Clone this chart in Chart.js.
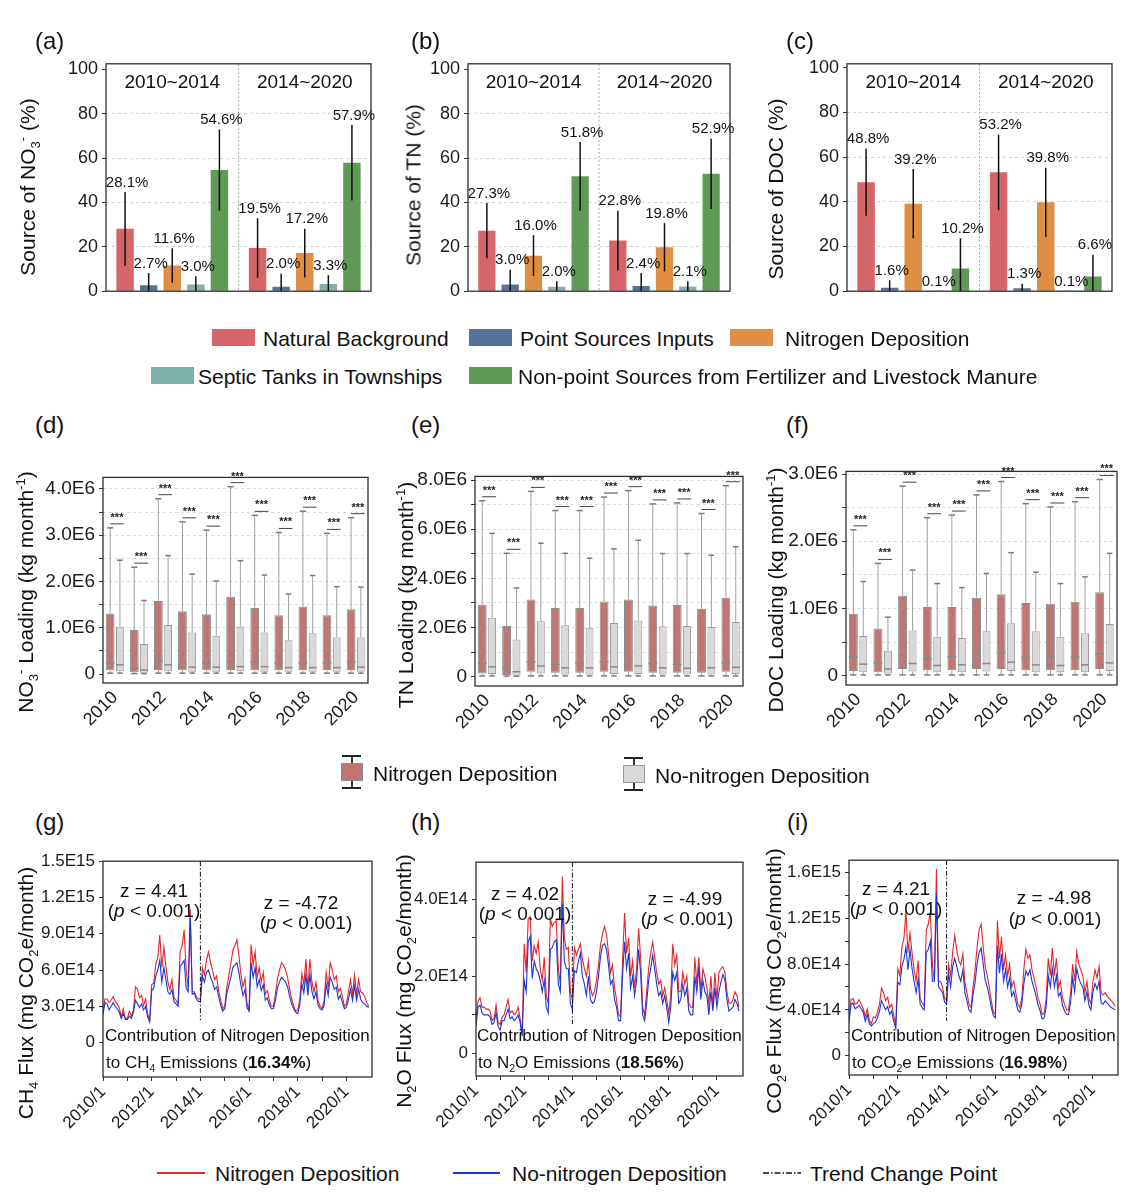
<!DOCTYPE html>
<html lang="en">
<head>
<meta charset="UTF-8">
<title>Nitrogen deposition: sources, loadings and fluxes</title>
<script src="https://cdn.jsdelivr.net/npm/chart.js"></script>
<style>
  html, body { margin: 0; padding: 0; overflow: hidden; background: #fff; }
  body { font-family: "Liberation Sans", Arial, Helvetica, sans-serif; color: #111; }
  #page { position: relative; width: 1128px; height: 1198px; }
  .panel { position: absolute; }
  .t { position: absolute; white-space: nowrap; line-height: 1; }
  .c { transform: translate(-50%, -50%); }
  .l { transform: translate(0, -50%); }
  .rot { transform: translate(-50%, -50%) rotate(-90deg); font-size: 21px; }
  .lab { font-size: 24px; }
  .z { font-size: 19px; }
  .note { font-size: 17px; }
  .leg { font-size: 21px; }
  sub, sup { font-size: 0.62em; line-height: 0; }
  .sw { position: absolute; box-sizing: border-box; }
</style>
</head>
<body>
<div id="page">
  <div class="panel" id="pa"><canvas></canvas></div>
  <div class="panel" id="pb"><canvas></canvas></div>
  <div class="panel" id="pc"><canvas></canvas></div>
  <div class="panel" id="pd"><canvas></canvas></div>
  <div class="panel" id="pe"><canvas></canvas></div>
  <div class="panel" id="pf"><canvas></canvas></div>
  <div class="panel" id="pg"><canvas></canvas></div>
  <div class="panel" id="ph"><canvas></canvas></div>
  <div class="panel" id="pi"><canvas></canvas></div>

  <!-- panel letters -->
  <div class="t lab l" style="left:35px;top:41px">(a)</div>
  <div class="t lab l" style="left:411px;top:41px">(b)</div>
  <div class="t lab l" style="left:786px;top:41px">(c)</div>
  <div class="t lab l" style="left:35px;top:425px">(d)</div>
  <div class="t lab l" style="left:411px;top:425px">(e)</div>
  <div class="t lab l" style="left:786px;top:425px">(f)</div>
  <div class="t lab l" style="left:35px;top:822px">(g)</div>
  <div class="t lab l" style="left:411px;top:822px">(h)</div>
  <div class="t lab l" style="left:787px;top:822px">(i)</div>

  <!-- axis titles -->
  <div class="t rot" style="left:27px;top:187px">Source of NO<sub>3</sub><sup>-</sup> (%)</div>
  <div class="t rot" style="left:413px;top:185px">Source of TN (%)</div>
  <div class="t rot" style="left:775px;top:189px">Source of DOC (%)</div>
  <div class="t rot" style="left:25px;top:592px">NO<sub>3</sub><sup>-</sup> Loading (kg month<sup>-1</sup>)</div>
  <div class="t rot" style="left:405px;top:595px">TN Loading (kg month<sup>-1</sup>)</div>
  <div class="t rot" style="left:775px;top:590px">DOC Loading (kg month<sup>-1</sup>)</div>
  <div class="t rot" style="left:25px;top:993px">CH<sub>4</sub> Flux (mg CO<sub>2</sub>e/month)</div>
  <div class="t rot" style="left:403px;top:981px">N<sub>2</sub>O Flux (mg CO<sub>2</sub>e/month)</div>
  <div class="t rot" style="left:773px;top:981px">CO<sub>2</sub>e Flux (mg CO<sub>2</sub>e/month)</div>

  <!-- source legend -->
  <div class="sw" style="left:212px;top:329px;width:43px;height:17px;background:#d4666a"></div>
  <div class="t leg l" style="left:263px;top:338px">Natural Background</div>
  <div class="sw" style="left:469px;top:329px;width:43px;height:17px;background:#54739b"></div>
  <div class="t leg l" style="left:520px;top:338px">Point Sources Inputs</div>
  <div class="sw" style="left:730px;top:329px;width:43px;height:17px;background:#df8e44"></div>
  <div class="t leg l" style="left:785px;top:338px">Nitrogen Deposition</div>
  <div class="sw" style="left:151px;top:367px;width:43px;height:17px;background:#7fb2ab"></div>
  <div class="t leg l" style="left:198px;top:376px">Septic Tanks in Townships</div>
  <div class="sw" style="left:469px;top:367px;width:43px;height:17px;background:#5f9a57"></div>
  <div class="t leg l" style="left:518px;top:376px">Non-point Sources from Fertilizer and Livestock Manure</div>

  <!-- box legend -->
  <div class="sw" style="left:351px;top:756px;width:1.5px;height:32px;background:#333"></div>
  <div class="sw" style="left:342px;top:755px;width:19px;height:2px;background:#222"></div>
  <div class="sw" style="left:342px;top:787px;width:19px;height:2px;background:#222"></div>
  <div class="sw" style="left:341px;top:763px;width:22px;height:18px;background:#be7676;border:1px solid #8c8c8c"></div>
  <div class="t leg l" style="left:373px;top:773px">Nitrogen Deposition</div>
  <div class="sw" style="left:633px;top:758px;width:1.5px;height:32px;background:#333"></div>
  <div class="sw" style="left:624px;top:757px;width:19px;height:2px;background:#222"></div>
  <div class="sw" style="left:624px;top:789px;width:19px;height:2px;background:#222"></div>
  <div class="sw" style="left:623px;top:765px;width:22px;height:18px;background:#d9d9d9;border:1px solid #999"></div>
  <div class="t leg l" style="left:655px;top:775px">No-nitrogen Deposition</div>

  <!-- flux annotations -->
  <div class="t z c" style="left:154px;top:890px">z = 4.41</div>
  <div class="t z c" style="left:154px;top:910px">(<i>p</i> &lt; 0.001)</div>
  <div class="t z c" style="left:301px;top:902px">z = -4.72</div>
  <div class="t z c" style="left:306px;top:922px">(<i>p</i> &lt; 0.001)</div>
  <div class="t note l" style="left:105px;top:1035px">Contribution of Nitrogen Deposition</div>
  <div class="t note l" style="left:106px;top:1062px">to CH<sub>4</sub> Emissions (<b>16.34%</b>)</div>

  <div class="t z c" style="left:525px;top:893px">z = 4.02</div>
  <div class="t z c" style="left:525px;top:913px">(<i>p</i> &lt; 0.001)</div>
  <div class="t z c" style="left:685px;top:898px">z = -4.99</div>
  <div class="t z c" style="left:687px;top:918px">(<i>p</i> &lt; 0.001)</div>
  <div class="t note l" style="left:477px;top:1035px">Contribution of Nitrogen Deposition</div>
  <div class="t note l" style="left:478px;top:1062px">to N<sub>2</sub>O Emissions (<b>18.56%</b>)</div>

  <div class="t z c" style="left:896px;top:888px">z = 4.21</div>
  <div class="t z c" style="left:896px;top:908px">(<i>p</i> &lt; 0.001)</div>
  <div class="t z c" style="left:1054px;top:897px">z = -4.98</div>
  <div class="t z c" style="left:1055px;top:918px">(<i>p</i> &lt; 0.001)</div>
  <div class="t note l" style="left:851px;top:1035px">Contribution of Nitrogen Deposition</div>
  <div class="t note l" style="left:852px;top:1062px">to CO<sub>2</sub>e Emissions (<b>16.98%</b>)</div>

  <!-- line legend -->
  <div class="sw" style="left:157px;top:1172px;width:48px;height:1.5px;background:#e3262b"></div>
  <div class="t leg l" style="left:215px;top:1173px">Nitrogen Deposition</div>
  <div class="sw" style="left:453px;top:1172px;width:47px;height:1.5px;background:#1f35d6"></div>
  <div class="t leg l" style="left:512px;top:1173px">No-nitrogen Deposition</div>
  <svg class="t" style="left:763px;top:1168px" width="38" height="10"><line x1="0" y1="5" x2="38" y2="5" stroke="#111" stroke-width="1.3" stroke-dasharray="6 2 1.5 2"/></svg>
  <div class="t leg l" style="left:810px;top:1173px">Trend Change Point</div>
</div>

<script>
Chart.defaults.font.family = '"Liberation Sans", Arial, Helvetica, sans-serif';
Chart.defaults.color = '#1a1a1a';

// ---------- (a)-(c) source apportionment ----------
const barSources = ['Natural Background', 'Point Sources Inputs', 'Nitrogen Deposition',
                    'Septic Tanks in Townships', 'Non-point Sources from Fertilizer and Livestock Manure'];
const barColors = ['#d4666a', '#54739b', '#df8e44', '#7fb2ab', '#5f9a57'];
const barPeriods = ['2010~2014', '2014~2020'];
const barTicks = [0, 20, 40, 60, 80, 100];
const barTickLabels = ['0', '20', '40', '60', '80', '100'];

// share per source, [2010~2014, 2014~2020]
const no3Share = [[28.1, 19.5], [2.7, 2.0], [11.6, 17.2], [3.0, 3.3], [54.6, 57.9]];
const no3Err   = [[16.6, 13.4], [5.5, 5.9], [7.8, 11.0], [3.7, 3.9], [18.3, 17.0]];
const tnShare  = [[27.3, 22.8], [3.0, 2.4], [16.0, 19.8], [2.0, 2.1], [51.8, 52.9]];
const tnErr    = [[12.5, 13.5], [6.7, 5.8], [9.2, 10.9], [2.5, 2.4], [15.5, 15.8]];
const docShare = [[48.8, 53.2], [1.6, 1.3], [39.2, 39.8], [0.1, 0.1], [10.2, 6.6]];
const docErr   = [[15.0, 16.9], [3.3, 2.0], [15.5, 15.5], [0, 0], [13.5, 9.7]];

// ---------- (d)-(f) monthly loadings, [min, q1, median, q3, max] in E6 kg/month ----------
const years = ['2010', '2011', '2012', '2013', '2014', '2015', '2016', '2017', '2018', '2019', '2020'];
const no3Dep = [[0.02, 0.08, 0.24, 1.31, 3.16], [0.01, 0.04, 0.13, 0.95, 2.31], [0.02, 0.09, 0.29, 1.58, 3.79],
  [0.02, 0.08, 0.22, 1.36, 3.29], [0.02, 0.08, 0.24, 1.29, 3.11], [0.02, 0.09, 0.27, 1.67, 4.05],
  [0.02, 0.08, 0.26, 1.43, 3.43], [0.02, 0.08, 0.24, 1.27, 3.06], [0.02, 0.08, 0.24, 1.46, 3.52],
  [0.02, 0.08, 0.24, 1.27, 3.04], [0.02, 0.09, 0.27, 1.40, 3.38]];
const no3NoDep = [[0.02, 0.06, 0.20, 1.02, 2.46], [0.01, 0.03, 0.09, 0.65, 1.59], [0.02, 0.06, 0.20, 1.06, 2.56],
  [0.02, 0.05, 0.15, 0.90, 2.16], [0.02, 0.05, 0.15, 0.83, 2.01], [0.02, 0.06, 0.16, 1.02, 2.45],
  [0.02, 0.05, 0.16, 0.90, 2.14], [0.02, 0.05, 0.14, 0.73, 1.73], [0.02, 0.05, 0.14, 0.88, 2.13],
  [0.02, 0.05, 0.14, 0.79, 1.89], [0.02, 0.05, 0.15, 0.79, 1.88]];
const tnDep = [[0.03, 0.13, 0.54, 2.94, 7.16], [0.02, 0.07, 0.34, 2.06, 5.02], [0.03, 0.20, 0.61, 3.14, 7.54],
  [0.03, 0.16, 0.50, 2.79, 6.76], [0.03, 0.16, 0.54, 2.79, 6.76], [0.03, 0.20, 0.61, 3.06, 7.31],
  [0.03, 0.20, 0.63, 3.14, 7.57], [0.03, 0.16, 0.54, 2.90, 7.03], [0.03, 0.16, 0.50, 2.92, 7.07],
  [0.03, 0.16, 0.54, 2.76, 6.64], [0.03, 0.20, 0.57, 3.21, 7.77]];
const tnNoDep = [[0.03, 0.11, 0.40, 2.40, 5.83], [0.02, 0.04, 0.20, 1.51, 3.61], [0.03, 0.13, 0.43, 2.26, 5.43],
  [0.03, 0.09, 0.36, 2.09, 5.02], [0.03, 0.09, 0.36, 1.99, 4.82], [0.03, 0.11, 0.40, 2.18, 5.20],
  [0.03, 0.11, 0.44, 2.29, 5.55], [0.03, 0.09, 0.36, 2.05, 5.01], [0.03, 0.09, 0.34, 2.06, 5.01],
  [0.03, 0.09, 0.36, 2.02, 4.94], [0.03, 0.11, 0.38, 2.22, 5.29]];
const docDep = [[0.01, 0.07, 0.28, 0.92, 2.17], [0.01, 0.05, 0.19, 0.70, 1.67], [0.01, 0.10, 0.30, 1.19, 2.82],
  [0.01, 0.08, 0.25, 1.02, 2.35], [0.01, 0.08, 0.28, 1.02, 2.39], [0.01, 0.10, 0.32, 1.16, 2.69],
  [0.01, 0.10, 0.34, 1.21, 2.89], [0.01, 0.08, 0.27, 1.08, 2.56], [0.01, 0.08, 0.28, 1.07, 2.51],
  [0.01, 0.08, 0.27, 1.10, 2.59], [0.01, 0.10, 0.32, 1.24, 2.92]];
const docNoDep = [[0.01, 0.05, 0.17, 0.59, 1.40], [0.01, 0.03, 0.10, 0.37, 0.87], [0.01, 0.06, 0.18, 0.67, 1.57],
  [0.01, 0.05, 0.15, 0.58, 1.37], [0.01, 0.05, 0.16, 0.56, 1.31], [0.01, 0.06, 0.18, 0.66, 1.52],
  [0.01, 0.07, 0.20, 0.78, 1.83], [0.01, 0.05, 0.16, 0.66, 1.54], [0.01, 0.05, 0.15, 0.58, 1.37],
  [0.01, 0.05, 0.16, 0.63, 1.47], [0.01, 0.07, 0.19, 0.77, 1.82]];

const no3Ticks = [0, 0.5, 1, 1.5, 2, 2.5, 3, 3.5, 4];
const no3TickLabels = ['0', '', '1.0E6', '', '2.0E6', '', '3.0E6', '', '4.0E6'];
const tnTicks = [0, 1, 2, 3, 4, 5, 6, 7, 8];
const tnTickLabels = ['0', '', '2.0E6', '', '4.0E6', '', '6.0E6', '', '8.0E6'];
const docTicks = [0, 0.5, 1, 1.5, 2, 2.5, 3];
const docTickLabels = ['0', '', '1.0E6', '', '2.0E6', '', '3.0E6'];

// ---------- (g)-(i) monthly fluxes 2010/1 - 2020/12, E14 mg CO2e/month ----------
const monthTicks = [0, 12, 24, 36, 48, 60, 72, 84, 96, 108, 120];
const monthTickLabels = ['2010/1', '', '2012/1', '', '2014/1', '', '2016/1', '', '2018/1', '', '2020/1'];
const changePoint = 48;

const ch4Dep = [
  2.7, 3.6, 3.6, 3.3, 3.5, 3.8, 3.4, 3.2, 2.9, 2.1, 2.8, 2.0,
  2.0, 2.6, 2.2, 2.7, 4.6, 4.4, 3.7, 3.9, 3.1, 3.6, 2.4, 1.8,
  4.8, 4.9, 6.5, 7.0, 8.9, 6.2, 7.9, 6.3, 5.0, 4.4, 5.2, 3.7,
  3.5, 3.2, 7.5, 8.0, 9.3, 6.0, 4.5, 11.0, 4.2, 4.2, 3.8, 3.6,
  3.6, 6.2, 5.6, 6.8, 7.5, 6.6, 6.0, 5.2, 5.5, 4.3, 3.5, 2.8,
  3.0, 4.5, 5.5, 6.5, 7.6, 8.0, 8.5, 7.2, 5.6, 4.6, 5.3, 3.2,
  2.7, 8.1, 6.4, 7.5, 5.4, 6.2, 5.0, 5.8, 4.0, 4.3, 3.5, 3.0,
  3.0, 4.0, 5.3, 6.0, 6.6, 6.4, 6.0, 5.4, 4.4, 3.6, 3.0, 2.6,
  2.7, 3.5, 5.7, 4.8, 6.9, 4.5, 6.9, 5.0, 4.2, 5.0, 3.5, 3.0,
  2.8, 3.5, 5.8, 4.5, 6.6, 6.0, 5.2, 5.5, 4.2, 4.5, 3.8, 3.0,
  3.2, 4.2, 5.2, 4.0, 5.6, 4.0, 5.2, 4.2, 4.1, 3.8, 3.3, 3.0];
const ch4NoDep = [
  2.3, 3.3, 3.2, 2.7, 3.0, 3.3, 3.0, 2.8, 2.5, 2.0, 2.4, 1.9,
  1.9, 2.2, 2.0, 2.5, 3.5, 3.2, 2.9, 3.2, 2.7, 3.0, 2.1, 1.7,
  4.3, 4.5, 5.5, 6.0, 6.8, 5.0, 6.2, 5.2, 4.2, 4.0, 4.4, 3.4,
  3.2, 3.0, 6.3, 6.5, 6.8, 4.5, 4.2, 10.3, 4.0, 4.1, 3.6, 3.4,
  3.4, 5.5, 5.0, 5.8, 6.0, 5.4, 5.0, 4.4, 4.6, 3.8, 3.1, 2.6,
  2.8, 4.0, 4.7, 5.4, 6.2, 6.4, 6.6, 5.8, 4.7, 3.9, 4.4, 2.9,
  2.6, 6.6, 5.4, 6.2, 4.6, 5.2, 4.3, 4.8, 3.5, 3.7, 3.1, 2.8,
  2.8, 3.5, 4.5, 5.0, 5.4, 5.2, 5.0, 4.6, 3.8, 3.2, 2.8, 2.5,
  2.4, 3.1, 4.9, 4.1, 5.6, 3.9, 5.6, 4.2, 3.6, 4.2, 3.1, 2.8,
  2.7, 3.1, 4.8, 3.9, 5.4, 5.0, 4.4, 4.6, 3.6, 3.9, 3.3, 2.8,
  2.9, 3.6, 4.4, 3.5, 4.7, 3.5, 4.4, 3.6, 3.3, 3.2, 3.0, 2.9];
const n2oDep = [
  0.9, 1.35, 1.45, 1.2, 1.2, 1.15, 1.15, 1.1, 0.85, 0.9, 1.25, 0.8,
  0.75, 0.95, 1.0, 1.2, 1.4, 1.05, 1.1, 1.0, 1.05, 1.2, 0.9, 0.5,
  2.85, 2.1, 3.5, 3.55, 2.4, 2.8, 2.6, 2.9, 2.2, 1.9, 2.5, 1.5,
  1.3, 3.5, 3.3, 3.4, 3.45, 2.2, 1.8, 4.6, 3.0, 2.7, 2.75, 1.6,
  1.4, 2.75, 2.55, 2.7, 2.85, 2.45, 2.2, 2.0, 2.4, 1.7, 1.5, 1.6,
  1.9, 2.3, 2.8, 3.1, 3.3, 3.1, 2.6, 2.1, 2.3, 1.7, 1.4, 1.0,
  0.95, 2.4, 3.65, 2.6, 3.0, 2.0, 2.4, 1.7, 2.2, 3.25, 2.5, 1.2,
  1.0, 1.6, 2.2, 2.6, 2.9, 2.5, 2.1, 1.8, 1.9, 1.5, 1.7, 1.4,
  1.05, 1.5, 2.85, 2.3, 2.55, 1.6, 1.6, 2.1, 1.8, 2.0, 1.3, 1.2,
  1.2, 2.5, 1.8, 2.5, 1.6, 2.2, 2.0, 1.7, 1.3, 2.0, 1.2, 2.1,
  1.4, 2.1, 2.2, 2.25, 2.1, 1.6, 1.3, 1.3, 1.4, 1.6, 1.5, 1.2];
const n2oNoDep = [
  0.7, 1.2, 1.25, 1.05, 1.0, 1.0, 1.0, 0.95, 0.75, 0.8, 1.05, 0.7,
  0.6, 0.85, 0.85, 1.0, 1.15, 0.9, 0.95, 0.85, 0.9, 1.0, 0.8, 0.45,
  1.9, 1.6, 2.9, 3.05, 1.95, 2.4, 2.2, 2.1, 1.9, 1.6, 1.9, 1.2,
  1.05, 2.7, 2.75, 2.9, 2.95, 1.8, 1.6, 3.9, 2.4, 2.2, 2.2, 1.3,
  1.15, 2.15, 2.1, 2.4, 2.6, 2.0, 1.8, 1.5, 2.0, 1.4, 1.3, 1.35,
  1.6, 2.0, 2.5, 2.8, 2.85, 2.7, 2.3, 1.8, 1.9, 1.4, 1.2, 0.85,
  0.85, 2.0, 2.9, 2.2, 2.6, 1.7, 2.0, 1.5, 1.9, 2.7, 2.1, 1.0,
  0.85, 1.3, 1.9, 2.2, 2.55, 2.2, 1.8, 1.5, 1.6, 1.3, 1.5, 1.2,
  0.8, 1.2, 2.1, 1.9, 2.1, 1.3, 1.4, 1.8, 1.5, 1.7, 1.1, 1.0,
  1.0, 2.0, 1.6, 2.25, 1.4, 1.9, 1.6, 1.5, 1.0, 1.6, 1.1, 1.7,
  1.2, 1.6, 1.85, 2.05, 1.9, 1.4, 1.1, 1.15, 1.2, 1.4, 1.3, 1.1];
const co2eDep = [
  3.3, 4.9, 5.0, 4.5, 4.6, 4.9, 4.5, 4.1, 3.4, 4.1, 3.1, 2.8,
  3.4, 3.3, 3.8, 4.5, 5.9, 5.5, 4.8, 5.1, 4.2, 4.5, 3.5, 2.7,
  7.6, 7.0, 9.5, 10.2, 12.6, 9.0, 10.7, 9.0, 7.5, 6.5, 8.3, 5.0,
  4.6, 4.3, 11.0, 11.5, 12.6, 8.0, 6.5, 16.3, 6.5, 6.5, 6.0, 5.0,
  4.9, 8.0, 7.0, 9.1, 10.5, 9.2, 8.3, 7.9, 8.9, 6.4, 5.5, 4.5,
  4.2, 6.0, 7.5, 9.5, 11.0, 11.5, 9.5, 7.8, 7.0, 6.0, 4.8, 3.8,
  3.6, 11.8, 8.5, 10.4, 7.5, 8.8, 7.0, 8.0, 6.0, 6.5, 5.5, 4.5,
  4.2, 5.0, 7.6, 9.3, 8.5, 8.8, 7.5, 6.8, 6.0, 5.0, 4.5, 3.6,
  3.7, 5.0, 8.5, 7.0, 9.4, 7.0, 8.5, 6.0, 6.5, 5.0, 4.5, 4.0,
  4.0, 5.5, 8.0, 6.5, 9.1, 8.0, 7.5, 7.0, 5.5, 6.5, 5.0, 4.5,
  6.5, 7.5, 6.8, 7.8, 5.5, 5.3, 5.5, 5.2, 5.0, 4.8, 4.6, 4.3];
const co2eNoDep = [
  2.9, 4.5, 4.6, 4.1, 4.2, 4.4, 4.1, 3.8, 3.0, 3.6, 2.8, 2.6,
  2.8, 2.9, 3.3, 3.9, 4.8, 4.4, 4.0, 4.3, 3.6, 3.9, 3.0, 2.4,
  6.4, 6.2, 7.8, 8.4, 9.5, 7.5, 9.3, 7.6, 6.5, 5.5, 6.7, 4.5,
  4.2, 4.0, 9.0, 9.3, 10.0, 6.5, 6.5, 14.2, 6.0, 5.8, 5.5, 4.7,
  4.5, 7.2, 6.0, 7.8, 8.5, 7.8, 7.0, 6.5, 7.5, 5.5, 4.8, 4.0,
  3.8, 5.3, 6.4, 8.0, 9.0, 9.4, 8.0, 6.6, 6.0, 5.2, 4.2, 3.5,
  3.3, 9.6, 7.2, 8.9, 6.5, 7.5, 6.0, 6.8, 5.2, 5.6, 4.8, 4.0,
  3.8, 4.5, 6.3, 7.4, 7.0, 7.5, 6.5, 5.9, 5.2, 4.4, 3.9, 3.2,
  3.3, 4.3, 7.0, 6.0, 7.6, 6.0, 7.0, 5.2, 5.5, 4.4, 3.9, 3.6,
  3.6, 4.7, 6.8, 5.6, 7.6, 6.8, 6.3, 6.0, 4.8, 5.6, 4.4, 4.0,
  5.6, 6.3, 5.8, 6.5, 4.6, 4.5, 4.8, 4.6, 4.4, 4.2, 4.1, 4.0];

const ch4Ticks = [0, 3, 6, 9, 12, 15];
const ch4TickLabels = ['0', '3.0E14', '6.0E14', '9.0E14', '1.2E15', '1.5E15'];
const n2oTicks = [0, 1, 2, 3, 4];
const n2oTickLabels = ['0', '', '2.0E14', '', '4.0E14'];
const co2eTicks = [0, 2, 4, 6, 8, 10, 12, 14, 16];
const co2eTickLabels = ['0', '', '4.0E14', '', '8.0E14', '', '1.2E15', '', '1.6E15'];

// ---------- layout ----------
const PAD = 14;

function sizePanel(id, frame, yW, xH) {
  const el = document.getElementById(id);
  el.style.left = (frame[0] - yW - PAD) + 'px';
  el.style.top = (frame[1] - PAD) + 'px';
  el.style.width = (frame[2] - frame[0] + yW + 2 * PAD) + 'px';
  el.style.height = (frame[3] - frame[1] + xH + 2 * PAD) + 'px';
  return el.querySelector('canvas');
}

function yAxis(min, max, ticks, labels, width, size, gridColor) {
  return {
    min: min, max: max,
    afterFit: s => { s.width = width; },
    afterBuildTicks: s => { s.ticks = ticks.map(v => ({ value: v })); },
    ticks: { font: { size: size }, padding: 4, autoSkip: false, callback: (v, i) => labels[i] },
    grid: { drawOnChartArea: !!gridColor, color: gridColor || '#333', tickColor: '#333',
            tickLength: 4, tickBorderDash: [] },
    border: { display: false, dash: [3, 3] }
  };
}

function baseOptions(scales, plugins) {
  return {
    responsive: true, maintainAspectRatio: false, animation: false, events: [],
    layout: { padding: PAD, autoPadding: false },
    scales: scales,
    plugins: Object.assign({ legend: { display: false }, tooltip: { enabled: false } }, plugins)
  };
}

const framePlugin = {
  id: 'frame',
  afterDraw(chart) {
    const { ctx, chartArea: a } = chart;
    ctx.save();
    ctx.strokeStyle = '#2e2e2e';
    ctx.lineWidth = 1.3;
    ctx.strokeRect(a.left, a.top, a.right - a.left, a.bottom - a.top);
    ctx.restore();
  }
};

function seg(ctx, x1, y1, x2, y2) {
  ctx.beginPath(); ctx.moveTo(x1, y1); ctx.lineTo(x2, y2); ctx.stroke();
}

// error bars, value labels, period headers and divider
const barExtras = {
  id: 'barExtras',
  afterDatasetsDraw(chart, args, opts) {
    const { ctx, chartArea: a, scales: { x, y } } = chart;
    ctx.save();
    const mid = (x.getPixelForValue(0) + x.getPixelForValue(1)) / 2;
    ctx.strokeStyle = '#a8a8a8'; ctx.lineWidth = 1; ctx.setLineDash([2, 2]);
    seg(ctx, mid, a.top, mid, a.bottom);
    ctx.setLineDash([]);
    ctx.fillStyle = '#111';
    ctx.textAlign = 'center'; ctx.textBaseline = 'middle';
    ctx.font = '19px "Liberation Sans", Arial, sans-serif';
    chart.data.labels.forEach((lab, j) => ctx.fillText(lab, x.getPixelForValue(j), a.top + 19));
    ctx.font = '15px "Liberation Sans", Arial, sans-serif';
    ctx.textBaseline = 'bottom';
    chart.data.datasets.forEach((ds, i) => {
      chart.getDatasetMeta(i).data.forEach((bar, j) => {
        const v = ds.data[j], e = opts.err[i][j];
        const yt = y.getPixelForValue(v + e);
        if (e > 0) {
          ctx.strokeStyle = '#111'; ctx.lineWidth = 1.5;
          seg(ctx, bar.x, yt, bar.x, y.getPixelForValue(Math.max(0, v - e)));
        }
        ctx.fillText(v.toFixed(1) + '%', bar.x + 2, yt - 2);
      });
    });
    ctx.restore();
  }
};

// whiskers, caps, medians and significance marks
const boxExtras = {
  id: 'boxExtras',
  beforeDatasetsDraw(chart, args, opts) {
    const { ctx, scales: { y } } = chart;
    ctx.save();
    opts.stats.forEach((stats, i) => {
      chart.getDatasetMeta(i).data.forEach((bar, j) => {
        const s = stats[j];
        const cap = bar.width * 0.35;
        ctx.strokeStyle = '#a0a0a0'; ctx.lineWidth = 1;
        seg(ctx, bar.x, y.getPixelForValue(s[3]), bar.x, y.getPixelForValue(s[4]));
        seg(ctx, bar.x, y.getPixelForValue(s[0]), bar.x, y.getPixelForValue(s[1]));
        ctx.strokeStyle = '#7a7a7a'; ctx.lineWidth = 1.5;
        seg(ctx, bar.x - cap, y.getPixelForValue(s[4]), bar.x + cap, y.getPixelForValue(s[4]));
        seg(ctx, bar.x - cap, y.getPixelForValue(s[0]), bar.x + cap, y.getPixelForValue(s[0]));
      });
    });
    ctx.restore();
  },
  afterDatasetsDraw(chart, args, opts) {
    const { ctx, scales: { y } } = chart;
    ctx.save();
    opts.stats.forEach((stats, i) => {
      chart.getDatasetMeta(i).data.forEach((bar, j) => {
        const ym = y.getPixelForValue(stats[j][2]);
        ctx.strokeStyle = '#8a8a8a'; ctx.lineWidth = 1.5;
        seg(ctx, bar.x - bar.width / 2, ym, bar.x + bar.width / 2, ym);
      });
    });
    const dep = chart.getDatasetMeta(0).data, nodep = chart.getDatasetMeta(1).data;
    ctx.font = 'bold 11px "Liberation Sans", Arial, sans-serif';
    ctx.textAlign = 'center'; ctx.textBaseline = 'bottom'; ctx.fillStyle = '#222';
    dep.forEach((bar, j) => {
      const yl = y.getPixelForValue(opts.stats[0][j][4]) - 4;
      const x1 = bar.x, x2 = nodep[j].x + nodep[j].width / 2;
      ctx.strokeStyle = '#444'; ctx.lineWidth = 1;
      seg(ctx, x1, yl, x2, yl);
      ctx.fillText('***', (x1 + x2) / 2, yl - 0.5);
    });
    ctx.restore();
  }
};

// trend change point
const changeLine = {
  id: 'changeLine',
  afterDatasetsDraw(chart, args, opts) {
    const { ctx, chartArea: a, scales: { x, y } } = chart;
    const px = x.getPixelForValue(opts.at);
    ctx.save();
    ctx.strokeStyle = '#111'; ctx.lineWidth = 1;
    ctx.setLineDash([5, 2, 1.5, 2]);
    seg(ctx, px, a.top, px, y.getPixelForValue(opts.end));
    ctx.restore();
  }
};

function barChart(id, frame, shares, errs, yMax) {
  const canvas = sizePanel(id, frame, 60, 0);
  const grid = c => (c.tick && c.tick.value > 0 && c.tick.value < 100) ? '#d2d2d2' : 'rgba(0,0,0,0)';
  return new Chart(canvas, {
    type: 'bar',
    data: {
      labels: barPeriods,
      datasets: barSources.map((s, i) => ({
        label: s, data: shares[i], backgroundColor: barColors[i],
        categoryPercentage: 0.89, barPercentage: 0.74
      }))
    },
    options: baseOptions({
      x: { display: false, offset: true },
      y: yAxis(0, yMax, barTicks, barTickLabels, 60, 18, grid)
    }, { barExtras: { err: errs } }),
    plugins: [framePlugin, barExtras]
  });
}

function boxChart(id, frame, dep, nodep, yMin, yMax, ticks, labels) {
  const canvas = sizePanel(id, frame, 66, 50);
  const grid = c => (c.tick && c.tick.value > 0) ? '#dcdcdc' : 'rgba(0,0,0,0)';
  return new Chart(canvas, {
    type: 'bar',
    data: {
      labels: years,
      datasets: [
        { label: 'Nitrogen Deposition', data: dep.map(s => [s[1], s[3]]),
          backgroundColor: '#be7676', borderColor: '#8c8c8c', borderWidth: 1, borderSkipped: false,
          categoryPercentage: 0.81, barPercentage: 0.9 },
        { label: 'No-nitrogen Deposition', data: nodep.map(s => [s[1], s[3]]),
          backgroundColor: '#d9d9d9', borderColor: '#999999', borderWidth: 1, borderSkipped: false,
          categoryPercentage: 0.81, barPercentage: 0.8 }
      ]
    },
    options: baseOptions({
      x: {
        afterFit: s => { s.height = 50; },
        ticks: { font: { size: 18 }, minRotation: 45, maxRotation: 45, autoSkip: false, padding: 4,
                 callback: (v, i) => (i % 2 === 0 ? years[i] : '') },
        grid: { display: false, drawTicks: false },
        border: { display: false }
      },
      y: yAxis(yMin, yMax, ticks, labels, 66, 19, grid)
    }, { boxExtras: { stats: [dep, nodep] } }),
    plugins: [framePlugin, boxExtras]
  });
}

function lineChart(id, frame, dep, nodep, yMin, yMax, xMax, ticks, labels, changeEnd) {
  const canvas = sizePanel(id, frame, 66, 54);
  return new Chart(canvas, {
    type: 'line',
    data: {
      datasets: [
        { label: 'No-nitrogen Deposition', data: nodep.map((v, i) => ({ x: i, y: v })),
          borderColor: '#1f35d6', borderWidth: 1.1, pointRadius: 0 },
        { label: 'Nitrogen Deposition', data: dep.map((v, i) => ({ x: i, y: v })),
          borderColor: '#e3262b', borderWidth: 1.1, pointRadius: 0 }
      ]
    },
    options: baseOptions({
      x: {
        type: 'linear', min: 0, max: xMax,
        afterFit: s => { s.height = 54; },
        afterBuildTicks: s => { s.ticks = monthTicks.map(v => ({ value: v })); },
        ticks: { font: { size: 17 }, minRotation: 45, maxRotation: 45, autoSkip: false, padding: 1,
                 callback: (v, i) => monthTickLabels[i] },
        grid: { drawOnChartArea: false, tickLength: 4, tickColor: '#333' },
        border: { display: false }
      },
      y: yAxis(yMin, yMax, ticks, labels, 66, 17, null)
    }, { changeLine: { at: changePoint, end: changeEnd } }),
    plugins: [framePlugin, changeLine]
  });
}

barChart('pa', [106, 63, 371, 292], no3Share, no3Err, 102.5);
barChart('pb', [468, 63, 730, 292], tnShare, tnErr, 102.5);
barChart('pc', [847, 63, 1112, 292], docShare, docErr, 101.8);

boxChart('pd', [103, 476, 368, 683], no3Dep, no3NoDep, -0.193, 4.25, no3Ticks, no3TickLabels);
boxChart('pe', [475, 475, 743, 686], tnDep, tnNoDep, -0.38, 8.15, tnTicks, tnTickLabels);
boxChart('pf', [846, 470, 1117, 685], docDep, docNoDep, -0.14, 3.04, docTicks, docTickLabels);

lineChart('pg', [103, 861, 372, 1077], ch4Dep, ch4NoDep, -2.85, 15, 132.6, ch4Ticks, ch4TickLabels, 1.85);
lineChart('ph', [476, 862, 743, 1076], n2oDep, n2oNoDep, -0.59, 4.97, 133, n2oTicks, n2oTickLabels, 0.76);
lineChart('pi', [849, 860, 1118, 1075], co2eDep, co2eNoDep, -1.69, 17.08, 132.3, co2eTicks, co2eTickLabels, 3.05);
</script>
</body>
</html>
